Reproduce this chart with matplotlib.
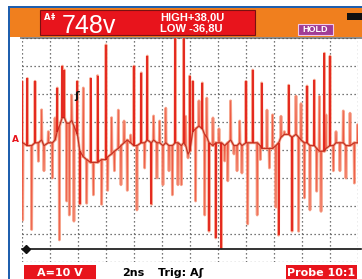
import numpy as np
import matplotlib
matplotlib.use("Agg")
import matplotlib.pyplot as plt
from matplotlib.patches import Rectangle

# ---------------- data (time in ns, voltage in V) ----------------
spike_t = [0.00, 0.05, 0.38, 0.69, 0.93, 1.17, 1.40, 1.57, 1.88, 2.17,
           2.36, 2.52, 2.67, 2.88, 3.02, 3.19, 3.38, 3.55, 3.71, 3.95,
           4.14, 4.38, 4.62, 4.90, 5.10, 5.40, 5.69, 6.00, 6.12, 6.40,
           6.60, 6.88, 7.07, 7.29, 7.52, 7.76, 8.00, 8.21, 8.52, 8.76,
           8.95, 9.24, 9.40, 9.64, 9.83, 10.07, 10.27, 10.50, 10.74, 10.95,
           11.14, 11.38, 11.55, 11.69, 11.86, 11.98, 12.20, 12.40, 12.64, 12.88,
           13.05, 13.20, 13.36, 13.64, 13.84, 14.07, 14.24, 14.48, 14.70, 14.90,
           15.14, 15.36, 15.55, 15.71, 16.00, 16.12, 16.48, 16.80, 17.02, 17.12,
           17.50, 17.67, 17.90, 18.14, 18.33, 18.50, 18.74, 19.05, 19.29, 19.57,
           19.76, 19.93, 20.17, 20.36, 20.57, 20.88, 21.05, 21.24, 21.36, 21.60,
           21.71, 22.00, 22.24, 22.43, 22.71, 22.95, 23.14, 23.43, 23.74, 23.98]
spike_v = [21, -28.6, 22, -32, 21, -7.6, 10.8, -11, 3, -13.6,
           7.9, 18.6, -35.7, 26.4, 25, -21.8, -26.8, 16, -29, 21,
           -23, 18.6, -22.6, 22, -19.6, 23, -23, 34, -18, 8,
           -11, 10.7, -16, 6.8, -18, 1.8, 26.4, -25, 24, -10,
           30, -23, 8.6, -13.6, 6.8, -16, 11.4, -11, -19.6, 38,
           -16, -16, 38, 8.5, -6.4, 22.9, 21, -21.8, 14, 20.4,
           -26.8, 15, -32.6, 7.9, -35, 4, -38.6, -7.5, -14.6, 14,
           -5, -11, 6.8, -11.8, 21, -30, 25, -26.8, -7, 20.4,
           10.7, -10, 9, -24, -34, 8.5, 3, 19.6, -32.6, 15.7,
           -32.6, 13, -20.7, 19.3, -25, 21.4, -18.3, 15.6, -25.5, 31,
           9, 30, -11, 3, -11, 10.4, -13.6, 9.6, -15.4, 5.5]
base_v = [-1, -1, -2, -2, -1, -1, 0, -2, -1, -1,
          0, 3, 5, 8, 8, 6, 6, 7, 5, 2,
          -4, -6, -7, -8, -8, -8, -7, -7, -6, -5,
          -4, -3, -2, -1, 0, -1, -2, -2, -1, -1,
          0, -1, 0, -1, -1, -2, -1, -2, -2, -1,
          -1, -2, -1, -2, -5, -4, 3, 4, 5, 4,
          2, 1, -1, -2, -1, -1, -1, -2, -1, 0,
          -2, -2, -1, -2, -1, -1, -1, -1, -2, -3,
          -3, -3, -3, -2, -1, 1, 2, 2, 1, 2,
          1, 0, -1, -1, -2, -2, -3, -4, -4, -4,
          -3, -2, -2, -1, -1, -1, -2, -2, -1, -1]
# spikes drawn with the bright (latest) trace colour
bright_idx = [0, 2, 4, 11, 13, 14, 19, 20, 23, 25, 27, 36, 38, 40, 41, 49, 52,
              55, 56, 59, 62, 64, 66, 74, 76, 79, 84, 87, 88, 93, 95, 99, 101]

t_div = 2.0      # ns / div
v_div = 10.0     # V / div
n_xdiv, n_ydiv = 12, 8
v_top = 36.43    # voltage at top of the screen

# ---------------- figure ----------------
W, H = 362, 279
fig = plt.figure(figsize=(W / 100, H / 100), dpi=100)
fig.patch.set_facecolor("white")

lib = ["Liberation Sans", "DejaVu Sans"]

bg = fig.add_axes([0, 0, 1, 1], zorder=0)
bg.set_xlim(0, W); bg.set_ylim(H, 0); bg.axis("off")

# blue frame
bg.add_patch(Rectangle((8, 6), 2.2, H, color="#1f5fae", lw=0))
bg.add_patch(Rectangle((8, 6), W, 2, color="#1f5fae", lw=0))
# orange header
bg.add_patch(Rectangle((10, 8), W, 29, color="#f07f1e", lw=0))
# red readout box
bg.add_patch(Rectangle((40, 10), 215, 25, facecolor="#e8141c", edgecolor="#7a1010", lw=0.8))
# HOLD box
bg.add_patch(Rectangle((298, 24), 35, 11, facecolor="#a03c96", edgecolor="#f2c8e8", lw=0.8))
# battery
bg.add_patch(Rectangle((347, 13), 15, 7, color="#111111", lw=0))
# grey top bar of the screen
bg.add_patch(Rectangle((20, 36.5), W - 20, 2.2, color="#8c8c8c", lw=0))
# bottom label boxes
bg.add_patch(Rectangle((24, 265), 72, 14, color="#e8141c", lw=0))
bg.add_patch(Rectangle((286, 265), 71, 14, color="#e8141c", lw=0))

bg.text(43.5, 17.5, "A", color="white", fontsize=6, fontweight="bold", ha="left", va="center")
bg.text(51, 17.5, "‡", color="white", fontsize=6, fontweight="bold", ha="left", va="center")
bg.text(62, 33, "748v", color="white", fontsize=18, family=lib, ha="left", va="baseline")
bg.text(160, 17.5, "HIGH+38,0U", color="white", fontsize=8, fontweight="bold", family=lib,
        ha="left", va="center")
bg.text(160, 28.5, "LOW -36,8U", color="white", fontsize=8, fontweight="bold", family=lib,
        ha="left", va="center")
bg.text(315.5, 29.8, "HOLD", color="white", fontsize=6.5, fontweight="bold", family=lib,
        ha="center", va="center")
bg.text(60, 272.5, "A=10 V", color="white", fontsize=8, fontweight="bold", ha="center", va="center")
bg.text(122, 272.5, "2ns", color="black", fontsize=8, fontweight="bold", ha="left", va="center")
bg.text(158, 272.5, "Trig: A\u0283", color="black", fontsize=8, fontweight="bold", ha="left", va="center")
bg.text(321.5, 272.5, "Probe 10:1", color="white", fontsize=8, fontweight="bold", ha="center", va="center")

# ---------------- scope screen ----------------
x0, x1, y0, y1 = 22, 358, 38, 262
ax = fig.add_axes([x0 / W, 1 - y1 / H, (x1 - x0) / W, (y1 - y0) / H], zorder=1)
ax.set_facecolor("none")
ax.set_xlim(0, n_xdiv * t_div)
ax.set_ylim(v_top - n_ydiv * v_div, v_top)
ax.set_xticks(np.arange(0, n_xdiv * t_div + 0.01, t_div))
ax.set_yticks(v_top - np.arange(0, n_ydiv + 1) * v_div)
ax.grid(True, color="#4a4a4a", lw=0.9, ls=(0, (1, 2.2)))
ax.tick_params(length=0, labelbottom=False, labelleft=False)
for s in ax.spines.values():
    s.set_visible(False)

# build trace from the spike arrays
eps = 0.03
tt, vv = [], []
for t, v, b in zip(spike_t, spike_v, base_v):
    tt += [t - eps, t, t + eps]
    vv += [b, v, b]
tt = np.array(tt); vv = np.array(vv)
ax.plot(tt, vv, color="#f59c82", lw=2.0, alpha=0.9)
ax.plot(tt, vv, color="#ee5a44", lw=0.6)
bt = np.array(spike_t)[bright_idx]
bv = np.array(spike_v)[bright_idx]
bb = np.array(base_v)[bright_idx]
ax.vlines(bt, bb, bv, color="#e3231a", lw=1.3)
ax.plot(spike_t, base_v, color="#b3261a", lw=0.8, alpha=0.8)

# overlay markers
ov = fig.add_axes([0, 0, 1, 1], zorder=2)
ov.set_xlim(0, W); ov.set_ylim(H, 0); ov.axis("off")
ov.plot([22, 361], [249, 249], color="#111111", lw=1.2)
ov.plot([25.5], [249], marker="D", ms=4.5, color="#111111")
ov.text(15.5, 140, "A", color="#e8141c", fontsize=6.5, fontweight="bold", ha="center", va="center")
ov.text(77, 96, "\u0283", color="#111111", fontsize=8, fontweight="bold", ha="center", va="center")

fig.savefig("out.png", dpi=100, facecolor="white")
